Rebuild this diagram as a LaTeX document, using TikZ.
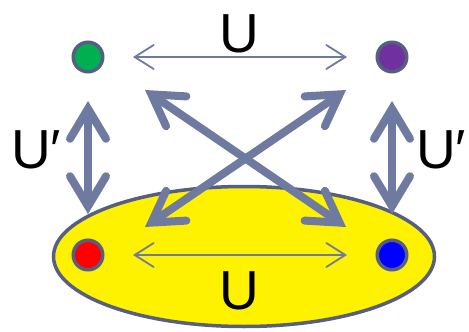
\documentclass[tikz,border=0pt]{standalone}
\usepackage{fontspec}
\setmainfont{Liberation Sans}
\usetikzlibrary{arrows.meta,shapes.geometric}
\definecolor{arrowc}{HTML}{6F7AA0}
\definecolor{borderc}{HTML}{565E82}
\definecolor{dgreen}{HTML}{00B050}
\definecolor{dpurple}{HTML}{7030A0}
\tikzset{
  dot/.style={circle, draw=borderc, line width=3.5pt, minimum size=29.5pt, inner sep=0pt},
  thinarrow/.style={draw=arrowc, line width=1.8pt, {Straight Barb[length=19pt,width=24pt,line cap=round]}-{Straight Barb[length=19pt,width=24pt,line cap=round]}},
  thickarrow/.style={draw=arrowc, line width=8pt, line cap=round, {Straight Barb[length=30pt,width=36pt,line cap=round,line join=miter]}-{Straight Barb[length=30pt,width=36pt,line cap=round,line join=miter]}},
  lbl/.style={font=\fontsize{55}{62}\selectfont, text=black, inner sep=0pt}
}
\begin{document}
\begin{tikzpicture}[x=1pt,y=-1pt]
\useasboundingbox (0,0) rectangle (469,332);
\node[draw=borderc, line width=3.5pt, fill=yellow, ellipse, minimum width=381pt, minimum height=140pt, inner sep=0pt] (ell) at (244,256.5) {};
\node[dot, fill=dgreen] (g) at (88,57) {};
\node[dot, fill=dpurple] (p) at (392,57) {};
\node[dot, fill=red] (r) at (88,255) {};
\node[dot, fill=blue] (b) at (392,255) {};
% arrow ends
\coordinate (tU1) at (133,57); \coordinate (tU2) at (347,57);
\coordinate (bU1) at (133,255); \coordinate (bU2) at (347,255);
\coordinate (l1) at (88,101); \coordinate (l2) at (88,214);
\coordinate (r1) at (392,101); \coordinate (r2) at (392,214);
\coordinate (d1a) at (145,90); \coordinate (d1b) at (346,227);
\coordinate (d2a) at (346,90); \coordinate (d2b) at (145,227);
\draw[thinarrow] (tU1) -- (tU2);
\draw[thinarrow] (bU1) -- (bU2);
\draw[thickarrow] (l1) -- (l2);
\draw[thickarrow] (r1) -- (r2);
\draw[thickarrow] (d1a) -- (d1b);
\draw[thickarrow] (d2a) -- (d2b);
\node[lbl] (lu1) at (239,34) {U};
\node[lbl] (lu2) at (239,291) {U};
\node[lbl, anchor=west] (lp1) at (11,150) {U′};
\node[lbl, anchor=west] (lp2) at (416,150) {U′};
\end{tikzpicture}
\end{document}
